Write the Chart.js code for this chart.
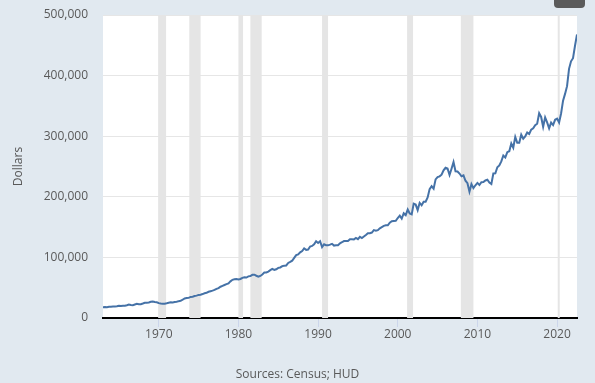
<!DOCTYPE html>
<html>
<head>
<meta charset="utf-8">
<script src="https://cdn.jsdelivr.net/npm/chart.js@4"></script>
<style>
  html, body { margin: 0; padding: 0; background: #e1e9f0; }
  #wrap { position: relative; width: 595px; height: 383px; }
  #btn { position: absolute; left: 554px; top: -4px; width: 31px; height: 12px; background: #5b5b5b; border-radius: 4px; }
  #source { position: absolute; left: 0; width: 595px; top: 365px; text-align: center;
            font: 12px "Open Sans", "Noto Sans", sans-serif; color: #595959; }
</style>
</head>
<body>
<div id="wrap">
  <canvas id="myChart" width="595" height="383"></canvas>
  <div id="btn"></div>
  <div id="source">Sources: Census; HUD</div>
</div>
<script>
// quarterly median sales price, 1963 Q1 .. 2022 Q3
const startYear = 1963;
const medianPrice = [
  17800, 18000, 17900, 18500,   // 1963
  18500, 18900, 18900, 19400,   // 1964
  20200, 19800, 20200, 20300,   // 1965
  21000, 22100, 21500, 21200,   // 1966
  22300, 23300, 22600, 22800,   // 1967
  23900, 25100, 25100, 25600,   // 1968
  26800, 27200, 26300, 26000,   // 1969
  24500, 23800, 23400, 23500,   // 1970
  24300, 25200, 25800, 25500,   // 1971
  26500, 26800, 27800, 28400,   // 1972
  30100, 32300, 32900, 33200,   // 1973
  34800, 35200, 36300, 36900,   // 1974
  38100, 38300, 39500, 40900,   // 1975
  41600, 43300, 44200, 45100,   // 1976
  46300, 48100, 49400, 51600,   // 1977
  53000, 54400, 55800, 57200,   // 1978
  60500, 63000, 63800, 64200,   // 1979
  63500, 64400, 66200, 67200,   // 1980
  66800, 68700, 69200, 71200,   // 1981
  71400, 69700, 68100, 69400,   // 1982
  71900, 75000, 75200, 76500,   // 1983
  78900, 80900, 79300, 80400,   // 1984
  82800, 83400, 85500, 86400,   // 1985
  86700, 90900, 92600, 94500,   // 1986
  99200, 103700, 105000, 108400, // 1987
  110500, 115000, 112500, 113000, // 1988
  118000, 118900, 121700, 126800, // 1989
  123900, 126800, 117000, 121500, // 1990
  120000, 119900, 121000, 122400, // 1991
  119500, 120000, 120000, 123200, // 1992
  125000, 127000, 127000, 127000, // 1993
  130000, 130000, 129700, 132000, // 1994
  130000, 133900, 132000, 134500, // 1995
  137000, 139900, 140000, 141000, // 1996
  145000, 144000, 145000, 148000, // 1997
  150000, 152000, 152900, 153000, // 1998
  157400, 159700, 160000, 160300, // 1999
  165000, 169000, 164000, 172900, // 2000
  169800, 179000, 172500, 171100, // 2001
  188700, 187200, 178100, 190100, // 2002
  186000, 191800, 191900, 198800, // 2003
  212700, 217600, 213500, 228800, // 2004
  232500, 233700, 236400, 243600, // 2005
  247900, 246800, 236000, 246300, // 2006
  257400, 242200, 241800, 238400, // 2007
  233900, 235300, 226500, 222500, // 2008
  208400, 220900, 214300, 219000, // 2009
  222900, 219500, 224100, 224300, // 2010
  226900, 228100, 223500, 221100, // 2011
  238400, 238700, 248800, 251700, // 2012
  258400, 268100, 264800, 273600, // 2013
  275200, 288000, 281000, 298900, // 2014
  289200, 289100, 302500, 295800, // 2015
  299800, 306000, 303800, 310900, // 2016
  313100, 318200, 320500, 337900, // 2017
  331800, 315600, 330900, 322800, // 2018
  313000, 322500, 318400, 327100, // 2019
  329000, 322600, 337500, 358700, // 2020
  369800, 382600, 411200, 423600, // 2021
  428700, 449300, 468000          // 2022
];

// recession shading, start / end as decimal years
const recessionStart = [1969.92, 1973.83, 1980.0, 1981.5, 1990.5, 2001.17, 2007.92, 2020.08];
const recessionEnd   = [1970.92, 1975.25, 1980.58, 1982.92, 1991.25, 2001.92, 2009.5, 2020.33];

const yearTicks = [1970, 1980, 1990, 2000, 2010, 2020];
const priceTicks = [0, 100000, 200000, 300000, 400000, 500000];

const points = medianPrice.map((v, i) => ({ x: startYear + i / 4, y: v }));

const textColor = '#595959';
const fontFamily = '"Open Sans", "Noto Sans", sans-serif';

// white plot area + gray recession bars
const plotBackground = {
    id: 'plotBackground',
    beforeDraw(chart) {
        const { ctx, chartArea } = chart;
        ctx.save();
        ctx.fillStyle = '#ffffff';
        ctx.fillRect(chartArea.left, chartArea.top, chartArea.right - chartArea.left, chartArea.bottom - chartArea.top);
        ctx.restore();
    },
    beforeDatasetsDraw(chart) {
        const { ctx, chartArea } = chart;
        const x = chart.scales.x;
        ctx.save();
        ctx.fillStyle = '#e5e5e5';
        recessionStart.forEach((s, i) => {
            const x0 = x.getPixelForValue(s);
            const x1 = x.getPixelForValue(recessionEnd[i]);
            ctx.fillRect(x0, chartArea.top, Math.max(x1 - x0, 1.5), chartArea.bottom - chartArea.top);
        });
        ctx.restore();
    }
};

const canvas = document.getElementById('myChart');

const myChart = new Chart(canvas, {
    type: 'line',
    data: {
        datasets: [
            {
                label: 'Median Sales Price',
                data: points,
                borderColor: '#4572a7',
                backgroundColor: '#4572a7',
                borderWidth: 2,
                pointRadius: 0,
                tension: 0,
            }
        ]
    },
    options: {
        responsive: false,
        animation: false,
        devicePixelRatio: 1,
        layout: { padding: { top: 15, right: 18, left: 0, bottom: 0 } },
        plugins: {
            legend: { display: false },
            tooltip: { enabled: false }
        },
        scales: {
            x: {
                type: 'linear',
                min: startYear,
                max: startYear + (medianPrice.length - 1) / 4,
                afterBuildTicks(scale) {
                    scale.ticks = yearTicks.map(v => ({ value: v }));
                },
                afterFit(scale) {
                    scale.height = 65;
                    scale.paddingLeft = 0;
                    scale.paddingRight = 0;
                },
                grid: { drawOnChartArea: false, drawTicks: true, tickLength: 9, color: '#ccd6eb' },
                border: { display: true, color: '#000000', width: 2 },
                ticks: {
                    color: textColor,
                    padding: 0,
                    maxRotation: 0,
                    font: { family: fontFamily, size: 12 },
                    callback: v => String(v)
                }
            },
            y: {
                min: 0,
                max: 500000,
                afterBuildTicks(scale) {
                    scale.ticks = priceTicks.map(v => ({ value: v }));
                },
                afterFit(scale) {
                    scale.width = 103;
                    scale.paddingTop = 0;
                    scale.paddingBottom = 0;
                },
                grid: { color: '#e6e6e6', drawTicks: false },
                border: { display: false },
                ticks: {
                    color: textColor,
                    padding: 15,
                    font: { family: fontFamily, size: 12 },
                    callback: v => v.toLocaleString('en-US')
                },
                title: {
                    display: true,
                    text: 'Dollars',
                    color: textColor,
                    font: { family: fontFamily, size: 12 },
                    padding: { top: 11, bottom: 0 }
                }
            }
        }
    },
    plugins: [plotBackground]
});
</script>
</body>
</html>
